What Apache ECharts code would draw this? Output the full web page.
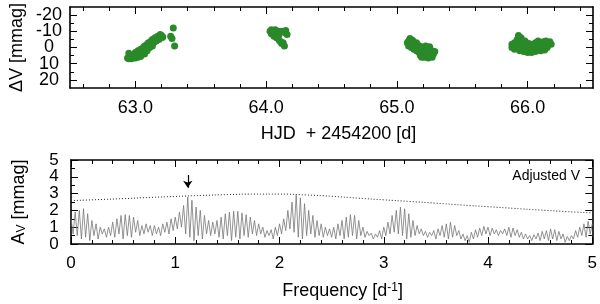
<!DOCTYPE html>
<html><head><meta charset="utf-8">
<script src="https://cdn.jsdelivr.net/npm/echarts@6/dist/echarts.min.js"></script>
<style>html,body{margin:0;padding:0;background:#fff}#c{width:600px;height:304px}</style>
</head><body><div id="c"></div>
<script>
// ---- Top panel: light curve (HJD - 2454200, dV mmag) ----
const lcTime = [
62.94,62.95,62.95,62.96,62.97,62.98,62.99,63.00,63.00,63.01,63.02,63.02,63.03,63.04,63.04,63.05,63.06,63.06,63.07,63.07,63.08,63.09,63.09,63.10,63.10,63.11,63.12,63.12,63.13,63.13,63.14,63.15,63.15,63.16,63.17,63.17,63.18,63.19,63.19,63.20,63.20,63.21,
63.27,63.28,63.29,63.30,
64.03,64.04,64.04,64.05,64.06,64.06,64.07,64.08,64.08,64.09,64.10,64.10,64.11,64.12,64.12,64.13,64.14,64.15,64.15,64.16,
65.08,65.09,65.09,65.10,65.10,65.11,65.11,65.12,65.12,65.13,65.13,65.14,65.15,65.15,65.16,65.16,65.17,65.17,65.18,65.18,65.19,65.19,65.20,65.20,65.21,65.21,65.22,65.22,65.23,65.23,65.24,65.24,65.25,65.25,65.26,65.26,65.27,65.27,65.28,65.29,
65.88,65.88,65.89,65.90,65.90,65.91,65.92,65.92,65.93,65.93,65.94,65.95,65.95,65.96,65.97,65.97,65.98,65.99,66.00,66.00,66.01,66.02,66.03,66.03,66.04,66.05,66.06,66.06,66.07,66.08,66.08,66.09,66.10,66.10,66.11,66.12,66.13,66.13,66.14,66.15,66.16,66.17,66.18
];
const lcMag = [
6.5,3.5,7,5.5,7,6,4.5,6.5,3,5,2,6,4,1,5.5,3,0,2.5,-1,4,1,-2,2,-1,-3,0,-4,-2,-5,-1,-3,-5,-6,-4,-6,-7,-5,-7,-8,-6,-7.5,-6.5,
-7,-5.5,-12,-1,
-10,-11,-8.5,-9.5,-10.5,-7,-11,-9,-6,-10,-4.5,-8,-3.5,-10,-2.5,-3,-1,-9,-10.5,-8,
-3,-1,-4,-5.5,-2,-3.5,0,-1.5,-4.5,-2.5,1,-0.5,-3,2,0,-1.5,3,-1,5,1,6,-0.5,2,4.5,0,6,3,-1,5,1,6.5,2.5,-0.5,4,5.5,1.5,3,6,4,2.5,
-2,0,-1,-3,1,-2,0,-5,-7.5,-1,2,-3,-6,0,2.5,-2,-4,1,3,-1,-2.5,1.5,-0.5,3,-2,1,-3,2.5,0,-4,1.5,-1,-3,2,0,-3.5,1.5,-1.5,-4,0,-2,-3.5,-2
];
const topXLabels = [63, 64, 65, 66];
const topXTicks = [62.6,62.8,63.0,63.2,63.4,63.6,63.8,64.0,64.2,64.4,64.6,64.8,65.0,65.2,65.4,65.6,65.8,66.0,66.2,66.4];
const topYLabels = [-20, -10, 0, 10, 20];
const topYTicks = [-20, -15, -10, -5, 0, 5, 10, 15, 20];

// ---- Bottom panel: amplitude spectrum ----
const specFreqStart = 0, specFreqStep = 0.02;
const specAmp = [
1.5,0.6,1.9,0.5,2.0,0.3,2.1,0.4,1.8,0.2,
1.4,0.5,1.2,0.3,1.0,0.6,0.9,0.4,1.0,0.5,
1.3,0.4,1.5,0.6,1.7,0.3,1.75,0.5,1.7,0.4,
1.6,0.7,1.4,0.5,1.1,0.6,1.2,0.7,1.1,0.5,
1.1,0.6,1.0,0.5,1.2,0.7,1.3,0.6,1.5,0.8,
1.6,0.9,1.9,1.0,2.3,0.6,2.8,0.4,2.6,0.2,
2.2,0.5,2.0,0.3,1.7,0.6,1.4,0.5,1.3,0.6,
1.4,0.4,1.6,0.3,1.8,0.5,1.9,0.2,1.95,0.4,
1.95,0.3,1.85,0.5,1.75,0.4,1.6,0.6,1.4,0.5,
1.2,0.6,1.0,0.4,0.8,0.5,0.85,0.3,1.0,0.5,
1.2,0.6,1.5,0.8,2.0,0.9,2.5,0.7,2.9,0.4,
2.75,0.3,2.4,0.5,2.0,0.6,1.7,0.4,1.4,0.5,
1.2,0.4,1.0,0.5,0.9,0.4,1.0,0.3,1.2,0.5,
1.4,0.3,1.6,0.4,1.75,0.5,1.7,0.3,1.4,0.5,
1.0,0.4,0.75,0.5,0.65,0.3,0.6,0.4,0.8,0.3,
1.0,0.5,1.3,0.6,1.7,0.7,2.0,0.6,2.2,0.5,
2.1,0.3,1.8,0.4,1.4,0.5,1.1,0.6,0.9,0.5,
0.75,0.4,0.7,0.5,0.8,0.3,0.9,0.5,1.1,0.4,
1.2,0.3,1.3,0.4,1.1,0.5,0.8,0.3,0.6,0.2,
0.5,0.1,0.7,0.3,0.85,0.4,0.95,0.5,1.05,0.6,
1.0,0.5,0.95,0.6,0.85,0.5,0.8,0.6,0.9,0.5,
1.0,0.4,0.95,0.5,0.85,0.4,0.7,0.3,0.6,0.3,
0.5,0.2,0.55,0.3,0.65,0.2,0.75,0.3,0.8,0.2,
0.9,0.3,0.85,0.2,0.75,0.3,0.6,0.1,0.45,0.2,
0.5,0.3,0.8,0.4,1.0,0.5,1.2,0.4,1.35,0.6,
1.2
];
const thrFreq = [0,0.25,0.5,0.75,1.0,1.25,1.5,1.75,2.0,2.25,2.5,2.75,3.0,3.25,3.5,3.75,4.0,4.25,4.5,4.75,5.0];
const thrAmp  = [2.58,2.64,2.70,2.77,2.83,2.89,2.94,2.97,2.97,2.92,2.84,2.73,2.63,2.53,2.43,2.32,2.22,2.12,2.02,1.93,1.85];
const arrowFreq = 1.12, arrowFrom = 4.1, arrowTo = 3.35;
const botXLabels = [0, 1, 2, 3, 4, 5];
const botXTicks = [0.2,0.4,0.6,0.8,1.0,1.2,1.4,1.6,1.8,2.0,2.2,2.4,2.6,2.8,3.0,3.2,3.4,3.6,3.8,4.0,4.2,4.4,4.6,4.8];
const botYLabels = [0, 1, 2, 3, 4, 5];
const botYTicks = [0.5,1.0,1.5,2.0,2.5,3.0,3.5,4.0,4.5];
const annotation = 'Adjusted V';

// ---- build ----
const FONT = "'Liberation Sans', Arial, Helvetica, sans-serif";
const lcData = lcTime.map((t, i) => [t, lcMag[i]]);
const specData = specAmp.map((a, i) => [+(specFreqStart + i * specFreqStep).toFixed(3), a]);
const thrData = thrFreq.map((f, i) => [f, thrAmp[i]]);

// Builds overlaid axes: frame line + minor ticks, major ticks, and label layers
// (labels split over alternating layers so none is auto-hidden).
function axisGroup(gi, pos, min, max, inverse, minorTicks, majorTicks, labels, labelOpt, nameOpt) {
  const base = {gridIndex: gi, type: 'value', min, max, inverse: !!inverse, position: pos,
    splitLine: {show: false}, axisLine: {show: false, onZero: false}, axisTick: {show: false}, axisLabel: {show: false}};
  const out = [];
  out.push(Object.assign({}, base, {
    axisLine: {show: true, onZero: false, lineStyle: {color: '#000', width: 1.6}},
    axisTick: {show: true, inside: true, length: 4, customValues: minorTicks, lineStyle: {color: '#000', width: 1}}
  }, nameOpt || {}));
  out.push(Object.assign({}, base, {
    axisTick: {show: true, inside: true, length: 7, customValues: majorTicks, lineStyle: {color: '#000', width: 1}}
  }));
  if (labels) {
    const layers = [labels.filter((v, i) => i % 2 === 0), labels.filter((v, i) => i % 2 === 1)];
    layers.forEach(vals => {
      out.push(Object.assign({}, base, {
        axisLabel: Object.assign({show: true, color: '#000', fontFamily: FONT, customValues: vals,
          showMinLabel: true, showMaxLabel: true, hideOverlap: false}, labelOpt)
      }));
    });
  }
  return out;
}

const xAxes = [], yAxes = [];
function addAxes(arr, group) { const start = arr.length; group.forEach(a => arr.push(a)); return start; }

const xTop = addAxes(xAxes, axisGroup(0, 'bottom', 62.5, 66.5, false, topXTicks, topXLabels, topXLabels,
    {fontSize: 18, margin: 11, formatter: v => v.toFixed(1)},
    {name: 'HJD  + 2454200 [d]', nameLocation: 'middle', nameGap: 37,
     nameTextStyle: {fontSize: 18, fontFamily: FONT, color: '#000', padding: [0, 0, 0, 14]}}));
addAxes(xAxes, axisGroup(0, 'top', 62.5, 66.5, false, topXTicks, topXLabels, null));
const xBot = addAxes(xAxes, axisGroup(1, 'bottom', 0, 5, false, botXTicks, botXLabels, botXLabels,
    {fontSize: 17, margin: 11, formatter: v => String(v)},
    {name: 'Frequency [d{sup|-1}]', nameLocation: 'middle', nameGap: 38,
     nameTextStyle: {fontSize: 18, fontFamily: FONT, color: '#000', padding: [0, 0, 0, 22],
       rich: {sup: {fontSize: 12, fontFamily: FONT, color: '#000', verticalAlign: 'top', lineHeight: 12, padding: [0, 0, 8, 0]}}}}));
addAxes(xAxes, axisGroup(1, 'top', 0, 5, false, botXTicks, botXLabels, null));

const yTop = addAxes(yAxes, axisGroup(0, 'left', -25, 25, true, topYTicks, topYLabels, topYLabels,
    {fontSize: 18, margin: 21, align: 'center', formatter: v => String(v)},
    {name: 'ΔV [mmag]', nameLocation: 'middle', nameGap: 44,
     nameTextStyle: {fontSize: 18, fontFamily: FONT, color: '#000'}}));
addAxes(yAxes, axisGroup(0, 'right', -25, 25, true, topYTicks, topYLabels, null));
const yBot = addAxes(yAxes, axisGroup(1, 'left', 0, 5, false, botYTicks, botYLabels, botYLabels,
    {fontSize: 17, margin: 17, align: 'center', formatter: v => String(v)},
    {name: 'A{sub|V} [mmag]', nameLocation: 'middle', nameGap: 43,
     nameTextStyle: {fontSize: 18, fontFamily: FONT, color: '#000',
       rich: {sub: {fontSize: 12, fontFamily: FONT, color: '#000', verticalAlign: 'bottom', lineHeight: 12, padding: [8, 0, 0, 0]}}}}));
addAxes(yAxes, axisGroup(1, 'right', 0, 5, false, botYTicks, botYLabels, null));

const chart = echarts.init(document.getElementById('c'), null, {renderer: 'canvas'});
chart.setOption({
  animation: false,
  backgroundColor: '#fff',
  textStyle: {fontFamily: FONT},
  grid: [
    {left: 62, right: 7, top: 2, height: 86},
    {left: 62, right: 7, top: 160, height: 84}
  ],
  xAxis: xAxes,
  yAxis: yAxes,
  graphic: [{type: 'text', right: 20, top: 169,
    style: {text: annotation, font: '14px ' + FONT, fill: '#000'}}],
  series: [
    {type: 'scatter', xAxisIndex: xTop, yAxisIndex: yTop, data: lcData, symbol: 'circle', symbolSize: 7,
     itemStyle: {color: '#2a8a2a', opacity: 1}, silent: true},
    {type: 'line', xAxisIndex: xBot, yAxisIndex: yBot, data: specData, showSymbol: false, silent: true,
     lineStyle: {color: '#777', width: 0.8}},
    {type: 'line', xAxisIndex: xBot, yAxisIndex: yBot, data: thrData, showSymbol: false, smooth: true, silent: true,
     lineStyle: {color: '#222', width: 1, type: [1, 2]}},
    {type: 'lines', coordinateSystem: 'cartesian2d', xAxisIndex: xBot, yAxisIndex: yBot, silent: true,
     data: [{coords: [[arrowFreq, arrowFrom], [arrowFreq, arrowTo]]}],
     symbol: ['none', 'arrow'], symbolSize: 7, lineStyle: {color: '#000', width: 1.2, opacity: 1}}
  ]
});
</script>
</body></html>
